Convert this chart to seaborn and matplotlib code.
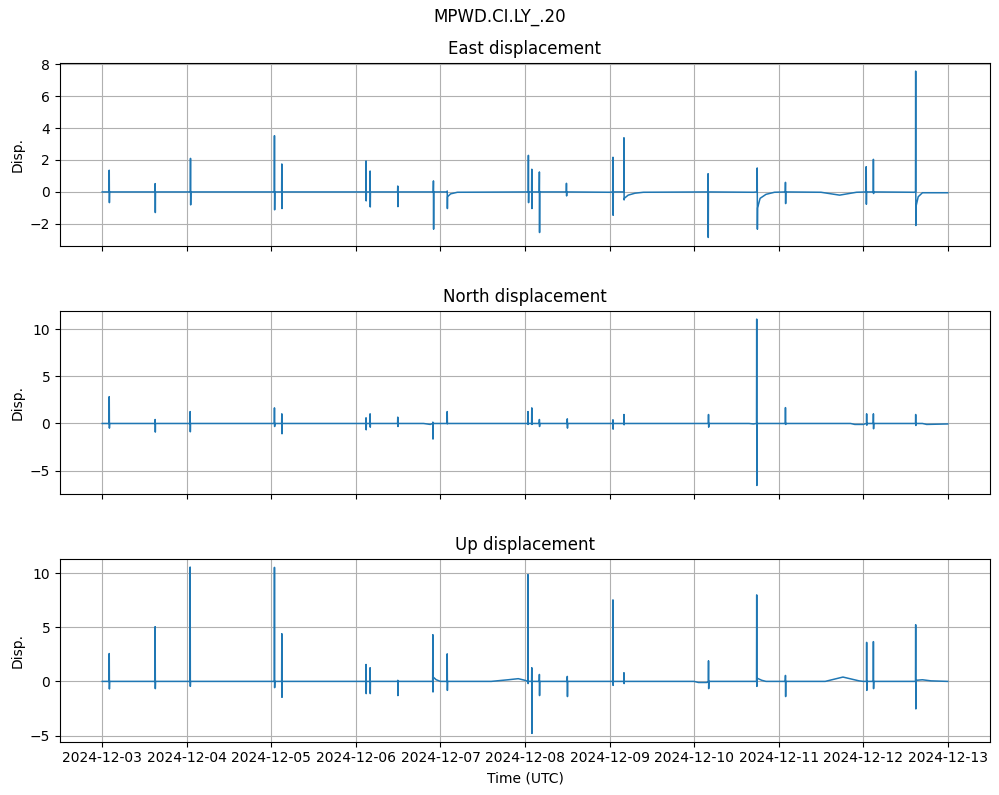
import numpy as np
import pandas as pd
import seaborn as sns
import matplotlib.pyplot as plt
import matplotlib.dates as mdates

### DATA (times in days after 2024-12-03 00:00 UTC)

start = pd.Timestamp('2024-12-03')
t_end = 9.999
spike_width = 0.002   # days, a few minutes

# east component: spike times, peaks, troughs, level right after the spike
east_t = [0.083, 0.626, 1.044, 2.037, 2.124, 3.12, 3.168, 3.495, 3.917, 4.08, 5.04,
          5.08, 5.17, 5.49, 6.04, 6.17, 7.165, 7.746, 8.08, 9.035, 9.12, 9.62]
east_hi = [1.36, 0.52, 2.1, 3.52, 1.75, 1.94, 1.31, 0.37, 0.69, 0.06, 2.29,
           1.42, 1.25, 0.54, 2.17, 3.39, 1.14, 1.5, 0.6, 1.58, 2.04, 7.56]
east_lo = [-0.67, -1.29, -0.81, -1.12, -1.04, -0.56, -0.94, -0.92, -2.33, -1.04, -0.67,
           -1.04, -2.54, -0.25, -1.46, -0.5, -2.85, -2.33, -0.73, -0.77, -0.1, -2.1]
east_after = [0, 0, 0, 0, 0, 0, 0, 0, 0, -0.3, 0,
              0, 0, 0, 0, -0.4, 0, -1.0, 0, 0, 0, -0.9]
# slow baseline wander
east_drift_t = [0.0, 4.12, 4.2, 6.0, 6.22, 6.3, 6.4, 7.7, 7.78, 7.85, 7.95, 8.5, 8.72,
                8.92, 9.6, 9.65, 9.7, t_end]
east_drift_v = [0.0, -0.12, -0.02, -0.02, -0.2, -0.08, -0.02, -0.02, -0.4, -0.15, -0.02, -0.02, -0.2,
                -0.02, -0.02, -0.3, -0.05, -0.05]

# north component
north_t = [0.083, 0.626, 1.04, 2.037, 2.124, 3.12, 3.168, 3.495, 3.91, 4.08, 5.035,
           5.08, 5.17, 5.5, 6.04, 6.17, 7.17, 7.74, 8.08, 9.04, 9.12, 9.62]
north_hi = [2.84, 0.42, 1.26, 1.65, 1.02, 0.6, 1.02, 0.67, 0.14, 1.26, 1.26,
            1.65, 0.42, 0.49, 0.39, 0.95, 0.95, 11.05, 1.68, 1.02, 1.02, 0.95]
north_lo = [-0.49, -0.91, -0.88, -0.32, -1.09, -0.67, -0.39, -0.32, -1.65, -0.04, -0.1,
            -0.1, -0.32, -0.49, -0.6, -0.14, -0.39, -6.56, -0.1, -0.18, -0.56, -0.21]
north_after = [0] * 22
north_drift_t = [0.0, 3.8, 3.88, 3.95, 7.65, 7.7, 8.85, 8.9, 9.0, 9.05, 9.7, 9.75, t_end]
north_drift_v = [0.0, 0.0, -0.1, 0.0, 0.0, -0.05, 0.0, -0.1, -0.1, 0.0, 0.0, -0.1, -0.05]

# up component
up_t = [0.083, 0.626, 1.04, 2.037, 2.124, 3.12, 3.168, 3.495, 3.91, 4.08, 5.035,
        5.08, 5.17, 5.5, 6.04, 6.17, 7.17, 7.74, 8.08, 9.04, 9.12, 9.62]
up_hi = [2.57, 5.05, 10.55, 10.52, 4.4, 1.56, 1.26, 0.1, 4.31, 2.54, 9.85,
         1.26, 0.64, 0.46, 7.52, 0.8, 1.9, 7.98, 0.55, 3.6, 3.67, 5.23]
up_lo = [-0.7, -0.67, -0.46, -0.58, -1.47, -1.13, -1.13, -1.31, -0.98, -0.83, -0.2,
         -4.8, -1.31, -1.4, -0.37, -0.2, -0.67, -0.46, -1.4, -0.83, -0.67, -2.54]
up_after = [0, 0, 0, 0, 0, 0, 0, 0, 0.4, 0, 0,
            0, 0, 0, 0, 0, 0, 0.3, 0, 0, 0, 0.1]
up_drift_t = [0.0, 3.95, 4.0, 4.6, 4.8, 4.92, 5.0, 5.1, 7.0, 7.05, 7.15, 7.2, 7.8, 7.85,
              8.55, 8.76, 8.95, 9.0, 9.6, 9.7, 9.8, t_end]
up_drift_v = [0.0, 0.15, 0.0, 0.0, 0.15, 0.25, 0.1, 0.0, 0.0, -0.1, -0.1, 0.0, 0.1, 0.0,
              0.0, 0.4, 0.05, 0.0, 0.0, 0.15, 0.05, 0.0]


### FUNCTIONS

# turn spikes + baseline points into one sorted trace
def build_trace(ev_t, ev_hi, ev_lo, ev_after, drift_t, drift_v):
    times = list(drift_t)
    vals = list(drift_v)
    for t, hi, lo, af in zip(ev_t, ev_hi, ev_lo, ev_after):
        times += [t - spike_width, t, t + spike_width, t + 2 * spike_width]
        vals += [0.0, hi, lo, af]
    df = pd.DataFrame({'days': times, 'disp': vals}).sort_values('days')
    df['time'] = start + pd.to_timedelta(df['days'], unit='D')
    return df


### PLOT

df_east = build_trace(east_t, east_hi, east_lo, east_after, east_drift_t, east_drift_v)
df_north = build_trace(north_t, north_hi, north_lo, north_after, north_drift_t, north_drift_v)
df_up = build_trace(up_t, up_hi, up_lo, up_after, up_drift_t, up_drift_v)

fig, axes = plt.subplots(3, 1, figsize=(9.99, 7.95), dpi=100, sharex=True)
plt.subplots_adjust(left=0.060, right=0.991, top=0.921, bottom=0.067, hspace=0.355)

panels = [(df_east, 'East displacement'), (df_north, 'North displacement'), (df_up, 'Up displacement')]
for ax, (df, title) in zip(axes, panels):
    sns.lineplot(data=df, x='time', y='disp', ax=ax, color='#1f77b4', linewidth=1.1,
                 estimator=None, sort=False)
    ax.set_title(title, fontsize=12)
    ax.set_ylabel('Disp.')
    ax.set_xlabel('')
    ax.grid(True)

axes[2].set_xlabel('Time (UTC)')
axes[2].xaxis.set_major_locator(mdates.DayLocator())
axes[2].xaxis.set_major_formatter(mdates.DateFormatter('%Y-%m-%d'))
fig.suptitle('MPWD.CI.LY_.20', fontsize=12, y=0.99)

fig.savefig('out.png', dpi=100)
